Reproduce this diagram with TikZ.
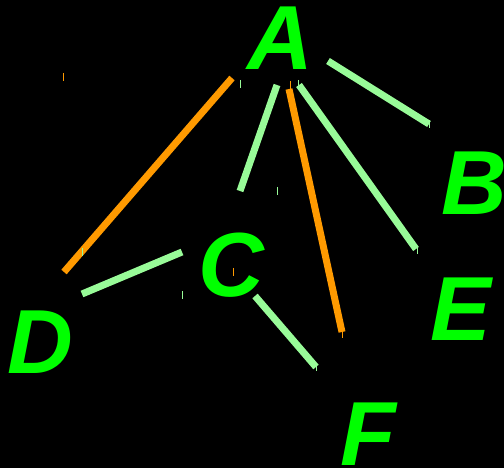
\documentclass[tikz,border=0pt]{standalone}
\usepackage{fontspec}
\setmainfont{Liberation Sans}
\definecolor{lettergreen}{HTML}{00FF00}
\definecolor{edgegreen}{HTML}{98FB98}
\definecolor{edgeorange}{HTML}{FF9A00}
\begin{document}
\begin{tikzpicture}[x=1pt,y=-1pt,
  letter/.style={text=lettergreen,inner sep=0pt,anchor=base,font=\fontsize{91}{91}\selectfont\bfseries\itshape},
  gedge/.style={draw=edgegreen,line width=7pt},
  oedge/.style={draw=edgeorange,line width=7pt},
  gtick/.style={draw=edgegreen,line width=1pt},
  otick/.style={draw=edgeorange,line width=1pt}]
\fill[black] (0,0) rectangle (504,468);
\useasboundingbox (0,0) rectangle (504,468);
% letters
\node[letter] (A) at (280,70) {A};
\node[letter] (B) at (474,215) {B};
\node[letter] (C) at (231,296) {C};
\node[letter] (D) at (40,373) {D};
\node[letter] (E) at (461,341) {E};
\node[letter] (F) at (368,465) {F};
% edge end points
\coordinate (aD) at (232,78);  \coordinate (dA) at (64,272);
\coordinate (aC) at (277,85);  \coordinate (cA) at (240,191);
\coordinate (aF) at (289,89);  \coordinate (fA) at (342,332);
\coordinate (aE) at (299,85);  \coordinate (eA) at (416,249);
\coordinate (aB) at (328,61);  \coordinate (bA) at (429,124);
\coordinate (cD) at (182,252); \coordinate (dC) at (82,294);
\coordinate (cF) at (255,296); \coordinate (fC) at (316,367);
% edges
\draw[oedge] (aD) -- (dA);
\draw[gedge] (aC) -- (cA);
\draw[oedge] (aF) -- (fA);
\draw[gedge] (aE) -- (eA);
\draw[gedge] (aB) -- (bA);
\draw[gedge] (cD) -- (dC);
\draw[gedge] (cF) -- (fC);
% small ticks
\foreach \x/\y in {63/77,233/272,290/85,342/334}
  \draw[otick] (\x,\y-4) -- (\x,\y+4);
\foreach \x/\y in {240/84,277/191,182/295,82/252,298/84,316/367,429/124,417/250}
  \draw[gtick] (\x,\y-4) -- (\x,\y+4);
\end{tikzpicture}
\end{document}
